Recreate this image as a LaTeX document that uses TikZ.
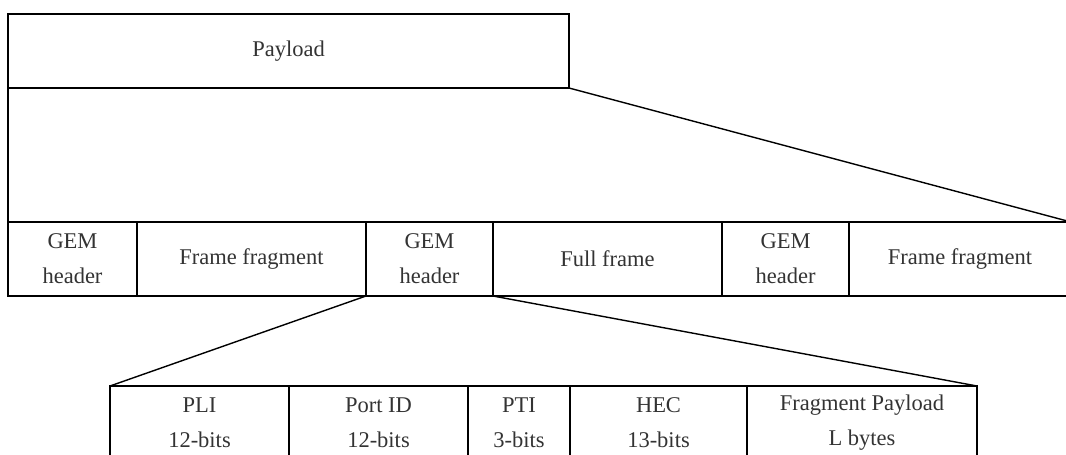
\documentclass[tikz,border=0pt]{standalone}
\usepackage{fontspec}
\setmainfont{Liberation Serif}
\usetikzlibrary{positioning}

\begin{document}
\begin{tikzpicture}[
  x=1pt, y=-1pt,
  font=\fontsize{22.5}{35}\selectfont,
  cell/.style={draw, line width=1.4pt, anchor=north west, align=center,
               minimum height=74pt, inner sep=0pt, outer sep=0pt, text=black!80},
  edge/.style={line width=1.4pt}
]
\useasboundingbox (0,0) rectangle (1066,455);
\clip (0,0) rectangle (1066,455);

% ---------- payload ----------
\node[cell, minimum width=561pt] (payload) at (8,14) {Payload};

% ---------- GEM frames ----------
\node[cell, minimum width=129pt] (gem1) at (8,222) {GEM\\header};
\node[cell, minimum width=229pt, right=0pt of gem1] (frag1) {Frame fragment};
\node[cell, minimum width=127pt, right=0pt of frag1] (gem2) {GEM\\header};
\node[cell, minimum width=229pt, right=0pt of gem2] (full) {Full frame};
\node[cell, minimum width=127pt, right=0pt of full] (gem3) {GEM\\header};
\node[cell, minimum width=222pt, right=0pt of gem3] (frag2) {Frame fragment};

\draw[edge] (payload.south west) -- (gem1.north west);
\draw[edge] (payload.south east) -- (frag2.north east);

% ---------- GEM header fields ----------
\node[cell, minimum width=179pt] (pli) at (110,386) {PLI\\12-bits};
\node[cell, minimum width=179pt, right=0pt of pli] (port) {Port ID\\12-bits};
\node[cell, minimum width=102pt, right=0pt of port] (pti) {PTI\\3-bits};
\node[cell, minimum width=177pt, right=0pt of pti] (hec) {HEC\\13-bits};
\node[cell, minimum width=230pt, right=0pt of hec] (fpay) {Fragment Payload\\L bytes};

\draw[edge] (gem2.south west) -- (pli.north west);
\draw[edge] (gem2.south east) -- (fpay.north east);

\end{tikzpicture}
\end{document}
